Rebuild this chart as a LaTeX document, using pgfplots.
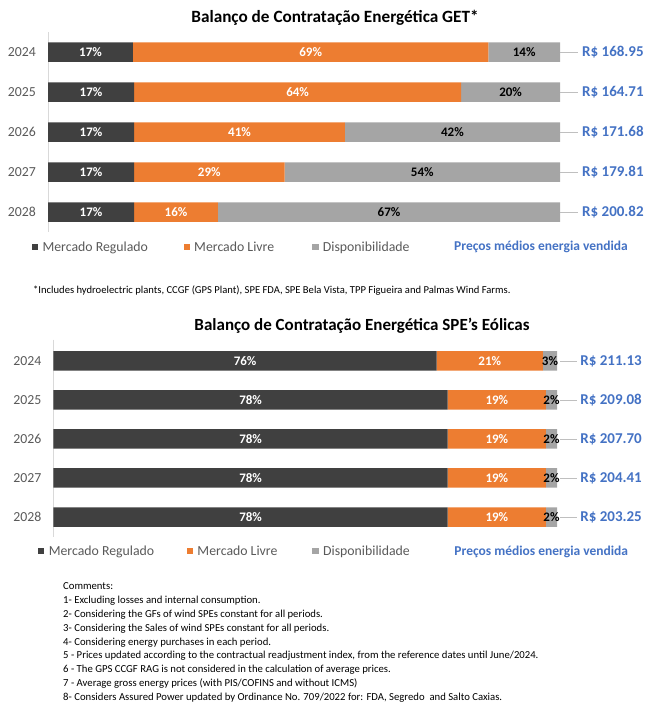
\documentclass[border=0pt]{standalone}
\usepackage{pgfplots}
\pgfplotsset{compat=1.18}
\usepackage{fontspec}
\setmainfont{Carlito}
\definecolor{cdark}{HTML}{404040}
\definecolor{corange}{HTML}{ED7D31}
\definecolor{cgray}{HTML}{A5A5A5}
\definecolor{cblue}{HTML}{4472C4}
\definecolor{ctext}{HTML}{595959}
\definecolor{caxis}{HTML}{D9D9D9}
\definecolor{cline}{HTML}{BFBFBF}

\pgfplotsset{
  barbase/.style={
    xbar stacked, scale only axis, bar width=19.5pt,
    xmin=0, xmax=100, ymin=-0.5, ymax=4.5, y dir=reverse,
    axis x line=none, axis y line*=left,
    axis line style={caxis, line width=0.8pt},
    ytick={0,1,2,3,4}, yticklabels={2024,2025,2026,2027,2028},
    major tick length=0pt,
    yticklabel style={font=\fontsize{13.8}{14}\selectfont, text=ctext, inner sep=0pt, xshift=-12pt},
    /pgf/number format/assume math mode=true,
    clip=false,
    legend columns=4,
    legend cell align=left,
    legend image code/.code={\fill[##1] (0pt,-3.2pt) rectangle (6.4pt,3.2pt);},
    legend style={draw=none, fill=none, inner sep=0pt, column sep=0pt,
      nodes={inner sep=0pt},
      font=\fontsize{13.8}{15}\selectfont, text=ctext,
      /tikz/every odd column/.append style={column sep=4.3pt}},
  },
  over/.style={scale only axis, xmin=0, xmax=100, ymin=-0.5, ymax=4.5,
    y dir=reverse, hide axis, clip=false},
  lbl/.style={draw=none, mark=none, nodes near coords, point meta=explicit symbolic,
    every node near coord/.style={anchor=center, inner sep=0pt, text=#1,
      font=\bfseries\fontsize{13}{13}\selectfont}},
  price/.style={draw=none, mark=none, nodes near coords, point meta=explicit symbolic,
    every node near coord/.style={anchor=west, inner sep=0pt, text=cblue,
      font=\bfseries\fontsize{15}{15}\selectfont}},
}

\begin{document}
\begin{tikzpicture}
\useasboundingbox (0pt,0pt) rectangle (653pt,-713pt);

% ---------------- Titles and notes ----------------
\node[font=\bfseries\fontsize{17.2}{17}\selectfont, inner sep=0pt] at (335pt,-18pt)
  {Balanço de Contratação Energética GET*};
\node[font=\fontsize{10.6}{10}\selectfont, inner sep=0pt, anchor=west] at (33pt,-291pt)
  {*Includes hydroelectric plants, CCGF (GPS Plant), SPE FDA, SPE Bela Vista, TPP Figueira and Palmas Wind Farms.};
\node[font=\bfseries\fontsize{17}{17}\selectfont, inner sep=0pt] at (362pt,-326pt)
  {Balanço de Contratação Energética SPE's Eólicas};
\node[font=\fontsize{10.7}{13.85}\selectfont, inner sep=0pt, anchor=north west, align=left] at (63pt,-582.5pt)
  {Comments:\\
   1- Excluding losses and internal consumption.\\
   2- Considering the GFs of wind SPEs constant for all periods.\\
   3- Considering the Sales of wind SPEs constant for all periods.\\
   4- Considering energy purchases in each period.\\
   5 - Prices updated according to the contractual readjustment index, from the reference dates until June/2024.\\
   6 - The GPS CCGF RAG is not considered in the calculation of average prices.\\
   7 - Average gross energy prices (with PIS/COFINS and without ICMS)\\
   8- Considers Assured Power updated by Ordinance No. 709/2022 for: FDA, Segredo\ \ and Salto Caxias.};

% ---------------- Chart 1 ----------------
\begin{axis}[barbase, width=512pt, height=200pt, at={(48pt,-32pt)}, anchor=north west,
  legend style={at={(-0.032,-0.075)}, anchor=west}]
\addplot[fill=cdark, draw=none] coordinates {(16.6,0) (16.8,1) (16.8,2) (16.8,3) (16.8,4)};
\addlegendentry{\makebox[141pt][l]{Mercado Regulado}}
\addplot[fill=corange, draw=none] coordinates {(69.4,0) (63.9,1) (41.2,2) (29.4,3) (16.4,4)};
\addlegendentry{\makebox[118pt][l]{Mercado Livre}}
\addplot[fill=cgray, draw=none] coordinates {(14.0,0) (19.3,1) (42.0,2) (53.8,3) (66.8,4)};
\addlegendentry{\makebox[127pt][l]{Disponibilidade}}
\addlegendimage{empty legend}
\addlegendentry{\textcolor{cblue}{\bfseries\fontsize{13.5}{14}\selectfont Preços médios energia vendida}}
\end{axis}
\begin{axis}[over, width=512pt, height=200pt, at={(48pt,-32pt)}, anchor=north west]
\addplot[lbl=white] coordinates {(8.3,0) [17\%] (8.4,1) [17\%] (8.4,2) [17\%] (8.4,3) [17\%] (8.4,4) [17\%]};
\addplot[lbl=white] coordinates {(51.3,0) [69\%] (48.75,1) [64\%] (37.4,2) [41\%] (31.5,3) [29\%] (25.0,4) [16\%]};
\addplot[lbl=black] coordinates {(93.0,0) [14\%] (90.35,1) [20\%] (79.0,2) [42\%] (73.1,3) [54\%] (66.6,4) [67\%]};
\addplot[cline, line width=0.8pt] coordinates {(100,0) (103.5,0)};
\addplot[cline, line width=0.8pt] coordinates {(100,1) (103.5,1)};
\addplot[cline, line width=0.8pt] coordinates {(100,2) (103.5,2)};
\addplot[cline, line width=0.8pt] coordinates {(100,3) (103.5,3)};
\addplot[cline, line width=0.8pt] coordinates {(100,4) (103.5,4)};
\addplot[price] coordinates {(104.3,0) [R\$ 168.95] (104.3,1) [R\$ 164.71] (104.3,2) [R\$ 171.68] (104.3,3) [R\$ 179.81] (104.3,4) [R\$ 200.82]};
\end{axis}

% ---------------- Chart 2 ----------------
\begin{axis}[barbase, width=503.5pt, height=197pt, at={(53.5pt,-339.5pt)}, anchor=north west,
  ymin=-0.55, ymax=4.5,
  legend style={at={(-0.031,-0.075)}, anchor=west}]
\addplot[fill=cdark, draw=none] coordinates {(76.1,0) (78.3,1) (78.3,2) (78.3,3) (78.3,4)};
\addlegendentry{\makebox[138pt][l]{Mercado Regulado}}
\addplot[fill=corange, draw=none] coordinates {(21.1,0) (19.5,1) (19.5,2) (19.5,3) (19.5,4)};
\addlegendentry{\makebox[115pt][l]{Mercado Livre}}
\addplot[fill=cgray, draw=none] coordinates {(2.8,0) (2.2,1) (2.2,2) (2.2,3) (2.2,4)};
\addlegendentry{\makebox[127pt][l]{Disponibilidade}}
\addlegendimage{empty legend}
\addlegendentry{\textcolor{cblue}{\bfseries\fontsize{13.5}{14}\selectfont Preços médios energia vendida}}
\end{axis}
\begin{axis}[over, width=503.5pt, height=197pt, at={(53.5pt,-339.5pt)}, anchor=north west,
  ymin=-0.55, ymax=4.5]
\addplot[lbl=white] coordinates {(38.05,0) [76\%] (39.15,1) [78\%] (39.15,2) [78\%] (39.15,3) [78\%] (39.15,4) [78\%]};
\addplot[lbl=white] coordinates {(86.65,0) [21\%] (88.05,1) [19\%] (88.05,2) [19\%] (88.05,3) [19\%] (88.05,4) [19\%]};
\addplot[lbl=black] coordinates {(98.6,0) [3\%] (98.9,1) [2\%] (98.9,2) [2\%] (98.9,3) [2\%] (98.9,4) [2\%]};
\addplot[cline, line width=0.8pt] coordinates {(100.6,0) (104.0,0)};
\addplot[cline, line width=0.8pt] coordinates {(100.6,1) (104.0,1)};
\addplot[cline, line width=0.8pt] coordinates {(100.6,2) (104.0,2)};
\addplot[cline, line width=0.8pt] coordinates {(100.6,3) (104.0,3)};
\addplot[cline, line width=0.8pt] coordinates {(100.6,4) (104.0,4)};
\addplot[price] coordinates {(104.6,0) [R\$ 211.13] (104.6,1) [R\$ 209.08] (104.6,2) [R\$ 207.70] (104.6,3) [R\$ 204.41] (104.6,4) [R\$ 203.25]};
\end{axis}
\end{tikzpicture}
\end{document}
